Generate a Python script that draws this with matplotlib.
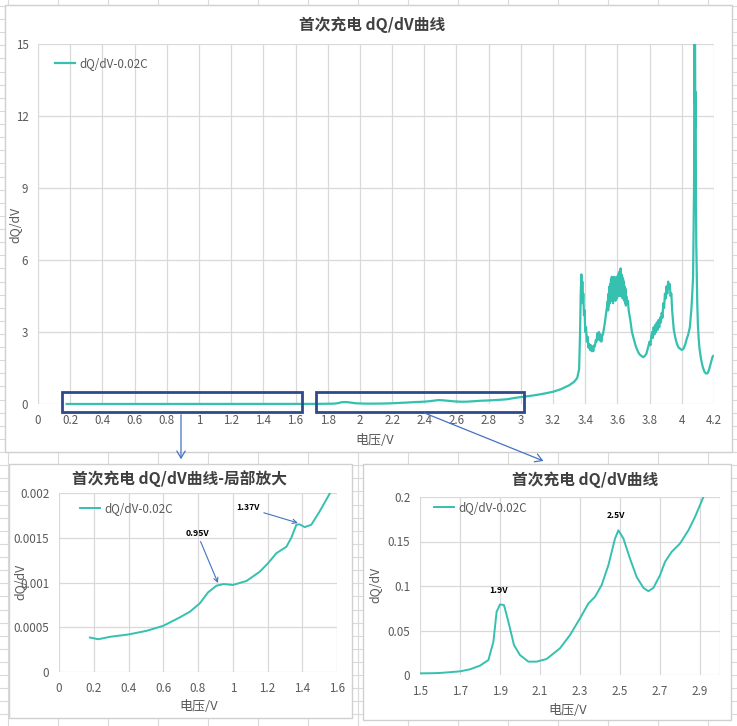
import matplotlib
matplotlib.use("Agg")
import matplotlib.pyplot as plt
from matplotlib.lines import Line2D
from matplotlib.patches import Rectangle, FancyArrowPatch

plt.rcParams['font.family'] = ['Noto Sans CJK SC', 'DejaVu Sans']

# ---------------- data ----------------
v_low = [0.178, 0.226, 0.293, 0.399, 0.504, 0.6, 0.695, 0.753, 0.81, 0.858, 0.906, 0.948,
         1.0, 1.079, 1.155, 1.203, 1.251, 1.309, 1.337, 1.366, 1.385, 1.414, 1.452, 1.5, 1.56, 1.6]
dq_low = [0.000385, 0.000366, 0.000393, 0.000419, 0.00046, 0.000516, 0.00061, 0.000673, 0.000766,
          0.00089, 0.000964, 0.000983, 0.000972, 0.001017, 0.00112, 0.001215, 0.001327, 0.0014,
          0.0015, 0.001645, 0.00165, 0.001619, 0.001645, 0.001794, 0.002, 0.0023]

v_mid = [1.65, 1.7, 1.75, 1.8, 1.842, 1.867, 1.883, 1.9, 1.92, 1.942, 1.97, 2.0, 2.042, 2.083,
         2.133, 2.2, 2.25, 2.3, 2.342, 2.375, 2.408, 2.442, 2.475, 2.492, 2.517, 2.55, 2.583,
         2.617, 2.642, 2.667, 2.7, 2.725, 2.758, 2.8, 2.842, 2.875, 2.917]
dq_mid = [0.0032, 0.0041, 0.0064, 0.0105, 0.0168, 0.0374, 0.071, 0.0793, 0.0785, 0.0598, 0.0336,
          0.0224, 0.015, 0.015, 0.018, 0.03, 0.0449, 0.0636, 0.0804, 0.0879, 0.1009, 0.1234,
          0.1533, 0.1626, 0.1533, 0.1308, 0.1103, 0.0979, 0.0942, 0.0979, 0.1121, 0.1271,
          0.1383, 0.1477, 0.1626, 0.1776, 0.2]

v_high = [2.95, 3.0, 3.05, 3.1, 3.15, 3.2, 3.25, 3.3, 3.33, 3.35, 3.362, 3.368, 3.372, 3.376,
          3.379, 3.382, 3.385, 3.388, 3.392, 3.396, 3.40, 3.405, 3.41, 3.415, 3.42, 3.425,
          3.43, 3.435, 3.44, 3.445, 3.45, 3.455,
          3.46, 3.465, 3.47, 3.475, 3.48, 3.485, 3.49, 3.495, 3.50, 3.505, 3.51, 3.52, 3.53,
          3.54, 3.5425, 3.545, 3.5475, 3.55, 3.5525, 3.555, 3.5575, 3.56, 3.5625, 3.565,
          3.5675, 3.57, 3.5725, 3.575, 3.5775, 3.58, 3.5825, 3.585, 3.5875, 3.59, 3.5925,
          3.595, 3.5975, 3.60, 3.6025, 3.605, 3.6075, 3.61, 3.6125, 3.615, 3.6175, 3.62,
          3.6225, 3.625, 3.6275, 3.63, 3.6325, 3.635, 3.6375, 3.64, 3.6425, 3.645, 3.6475,
          3.65, 3.6525, 3.655, 3.66, 3.665, 3.67, 3.68,
          3.69, 3.70, 3.71, 3.72, 3.73, 3.74, 3.75, 3.76, 3.77, 3.78, 3.79, 3.80, 3.805, 3.81,
          3.815, 3.82, 3.825, 3.83, 3.835, 3.84, 3.845, 3.85, 3.855, 3.86, 3.865, 3.87, 3.875,
          3.88, 3.885, 3.89, 3.895, 3.90, 3.905, 3.91, 3.915, 3.92, 3.925, 3.93, 3.935, 3.94,
          3.95, 3.96, 3.97, 3.98, 3.99, 4.00, 4.01, 4.02, 4.03, 4.04, 4.05, 4.06, 4.065, 4.07,
          4.073, 4.076, 4.078, 4.08, 4.082, 4.084, 4.086, 4.088, 4.09, 4.093, 4.096, 4.10,
          4.105, 4.11, 4.12, 4.13, 4.14, 4.15, 4.16, 4.17, 4.18, 4.19, 4.195]
dq_high = [0.24, 0.29, 0.33, 0.38, 0.44, 0.51, 0.62, 0.78, 0.92, 1.08, 1.45, 3.0, 4.6, 5.4,
           4.4, 5.1, 4.2, 4.6, 3.7, 3.9, 3.0, 3.2, 2.6, 2.8, 2.35, 2.5,
           2.25, 2.45, 2.2, 2.4, 2.2, 2.45,
           2.4, 2.65, 2.6, 2.95, 2.7, 3.0, 2.65, 2.9, 2.6, 2.85, 2.9, 3.3, 3.8,
           4.3, 3.9, 4.6, 4.1, 4.9, 4.2, 5.0, 4.3, 5.2, 4.4, 5.3,
           4.3, 5.2, 4.2, 5.1, 4.4, 5.3, 4.5, 5.2, 4.3, 5.1, 4.5,
           5.3, 4.4, 5.0, 4.6, 5.4, 4.5, 5.5, 4.6, 5.3, 4.5, 5.65,
           4.6, 5.4, 4.5, 5.3, 4.4, 5.2, 4.4, 5.1, 4.3, 4.9, 4.2,
           4.8, 4.1, 4.5, 4.2, 4.3, 3.9, 3.5,
           3.0, 2.75, 2.5, 2.3, 2.15, 2.05, 2.0, 1.95, 2.0, 2.1, 2.35, 2.6, 2.45, 2.8,
           3.0, 2.75, 3.2, 2.9, 3.3, 3.0, 3.4, 3.1, 3.5, 3.2, 3.6, 3.4, 3.8,
           3.6, 4.2, 4.0, 4.6, 4.4, 4.9, 4.6, 5.1, 4.8, 5.0, 4.5, 4.6, 3.9,
           3.1, 2.75, 2.5, 2.35, 2.3, 2.25, 2.3, 2.45, 2.7, 2.9, 3.2, 4.0, 4.6, 5.3,
           7.0, 9.0, 15.5, 12.5, 16.0, 11.5, 13.0, 8.5, 6.6, 5.5, 4.2, 3.3,
           2.7, 2.3, 1.85, 1.55, 1.35, 1.27, 1.28, 1.45, 1.7, 1.95, 2.0]

volt = v_low + v_mid + v_high
dqdv = dq_low + dq_mid + dq_high

main_xticks = [0, 0.2, 0.4, 0.6, 0.8, 1.0, 1.2, 1.4, 1.6, 1.8, 2.0, 2.2, 2.4, 2.6, 2.8, 3.0,
               3.2, 3.4, 3.6, 3.8, 4.0, 4.2]
main_xlabels = ['0', '0.2', '0.4', '0.6', '0.8', '1', '1.2', '1.4', '1.6', '1.8', '2', '2.2',
                '2.4', '2.6', '2.8', '3', '3.2', '3.4', '3.6', '3.8', '4', '4.2']
main_yticks = [0, 3, 6, 9, 12, 15]
main_ylabels = ['0', '3', '6', '9', '12', '15']

zoom1_xticks = [0, 0.2, 0.4, 0.6, 0.8, 1.0, 1.2, 1.4, 1.6]
zoom1_xlabels = ['0', '0.2', '0.4', '0.6', '0.8', '1', '1.2', '1.4', '1.6']
zoom1_yticks = [0, 0.0005, 0.001, 0.0015, 0.002]
zoom1_ylabels = ['0', '0.0005', '0.001', '0.0015', '0.002']

zoom2_xticks = [1.5, 1.7, 1.9, 2.1, 2.3, 2.5, 2.7, 2.9]
zoom2_xlabels = ['1.5', '1.7', '1.9', '2.1', '2.3', '2.5', '2.7', '2.9']
zoom2_yticks = [0, 0.05, 0.1, 0.15, 0.2]
zoom2_ylabels = ['0', '0.05', '0.1', '0.15', '0.2']

series_name = 'dQ/dV-0.02C'

# ---------------- style ----------------
W, H = 737, 726
LINE = '#35C0AF'
GRID = '#D9D9D9'
TICK = '#595959'
TITLE = '#404040'
NAVY = '#2E4A8C'
ARROW = '#4472C4'

fig = plt.figure(figsize=(W / 100, H / 100), dpi=100)
fig.patch.set_facecolor('white')


def fx(x):
    return x / W


def fy(y):
    return 1 - y / H


# spreadsheet cell grid
x = 8
while x < W:
    fig.add_artist(Line2D([fx(x), fx(x)], [0, 1], transform=fig.transFigure,
                          color='#DADADA', lw=0.8, zorder=0))
    x += 50
y = 6.0
while y < H:
    fig.add_artist(Line2D([0, 1], [fy(y), fy(y)], transform=fig.transFigure,
                          color='#DADADA', lw=0.8, zorder=0))
    y += 13.12


def frame(x0, y0, x1, y1):
    fig.add_artist(Rectangle((fx(x0), fy(y1)), fx(x1) - fx(x0), fy(y0) - fy(y1),
                             transform=fig.transFigure, facecolor='white',
                             edgecolor='#D0D0D0', lw=1.0, zorder=1))


def make_axes(x0, y0, x1, y1):
    ax = fig.add_axes([fx(x0), fy(y1), fx(x1) - fx(x0), fy(y0) - fy(y1)])
    ax.set_zorder(2)
    ax.patch.set_alpha(0)
    for s in ax.spines.values():
        s.set_visible(False)
    ax.grid(True, color=GRID, lw=0.9)
    ax.set_axisbelow(True)
    return ax


def draw_series(ax, lw):
    ln, = ax.plot(volt, dqdv, color=LINE, lw=lw, label=series_name)
    ln.set_clip_path(Rectangle((0, -0.03), 1, 1.03, transform=ax.transAxes))
    return ln


def style_ticks(ax, xt, xl, yt, yl, size, padx, pady):
    ax.set_xticks(xt)
    ax.set_xticklabels(xl)
    ax.set_yticks(yt)
    ax.set_yticklabels(yl)
    ax.tick_params(axis='x', length=0, pad=padx, labelsize=size, labelcolor=TICK)
    ax.tick_params(axis='y', length=0, pad=pady, labelsize=size, labelcolor=TICK)


def labels(ax, xpos, ypos):
    ax.set_xlabel('电压/V', fontsize=9.4, color=TICK)
    ax.xaxis.label.set_va('center')
    ax.xaxis.set_label_coords(fx(xpos[0]), fy(xpos[1]), transform=fig.transFigure)
    ax.set_ylabel('dQ/dV', fontsize=8.8, color=TICK)
    ax.yaxis.label.set_va('center')
    ax.yaxis.label.set_ha('center')
    ax.yaxis.set_label_coords(fx(ypos[0]), fy(ypos[1]), transform=fig.transFigure)


def legend(ax, x, y):
    ax.legend(loc='upper left', bbox_to_anchor=(fx(x), fy(y)), bbox_transform=fig.transFigure,
              frameon=False, fontsize=8.4, handlelength=1.75, handletextpad=0.35,
              borderpad=0, borderaxespad=0, labelcolor=TICK)


# ---------------- main chart ----------------
frame(5, 5, 732, 452)
ax = make_axes(38, 44, 714, 404)
draw_series(ax, 1.6)
ax.set_xlim(0, 4.2)
ax.set_ylim(0, 15)
style_ticks(ax, main_xticks, main_xlabels, main_yticks, main_ylabels, 8.3, 7, 7)
labels(ax, (375, 440), (15, 225))
fig.text(fx(372), fy(25), '首次充电 dQ/dV曲线', ha='center', va='center', fontsize=11.3,
         fontweight='bold', color=TITLE, zorder=3)
legend(ax, 55, 57)
ax.add_patch(Rectangle((0.147, -0.33), 1.494, 0.83, fill=False, edgecolor=NAVY, lw=2,
                       clip_on=False, zorder=4))
ax.add_patch(Rectangle((1.73, -0.33), 1.288, 0.83, fill=False, edgecolor=NAVY, lw=2,
                       clip_on=False, zorder=4))

# ---------------- zoom chart 1 ----------------
frame(9, 464, 352, 718)
ax1 = make_axes(59, 493, 337, 672)
draw_series(ax1, 1.4)
ax1.set_xlim(0, 1.6)
ax1.set_ylim(0, 0.002)
style_ticks(ax1, zoom1_xticks, zoom1_xlabels, zoom1_yticks, zoom1_ylabels, 8.4, 7, 7)
labels(ax1, (199, 707), (20, 582))
fig.text(fx(180), fy(479), '首次充电 dQ/dV曲线-局部放大', ha='center', va='center',
         fontsize=11.3, fontweight='bold', color=TITLE, zorder=3)
legend(ax1, 80, 502)
ax1.annotate('0.95V', xy=(0.915, 0.000994), xytext=(fx(197), fy(533)),
             textcoords='figure fraction', ha='center', va='center', fontsize=6.2,
             fontweight='bold', color='black',
             arrowprops=dict(arrowstyle='->,head_length=0.5,head_width=0.25', color=ARROW,
                             lw=0.8, shrinkA=1, shrinkB=0))
ax1.annotate('1.37V', xy=(1.375, 0.001665), xytext=(fx(248), fy(508)),
             textcoords='figure fraction', ha='center', va='center', fontsize=6.2,
             fontweight='bold', color='black',
             arrowprops=dict(arrowstyle='->,head_length=0.5,head_width=0.25', color=ARROW,
                             lw=0.8, shrinkA=1, shrinkB=0))

# ---------------- zoom chart 2 ----------------
frame(363, 464, 731, 720)
ax2 = make_axes(420, 497, 720, 675)
draw_series(ax2, 1.4)
ax2.set_xlim(1.5, 3.0)
ax2.set_ylim(0, 0.2)
ax2.axvline(3.0, color=GRID, lw=0.9, zorder=0)
style_ticks(ax2, zoom2_xticks, zoom2_xlabels, zoom2_yticks, zoom2_ylabels, 8.4, 7, 7)
labels(ax2, (568, 710), (375, 585))
fig.text(fx(585), fy(480), '首次充电 dQ/dV曲线', ha='center', va='center', fontsize=11.3,
         fontweight='bold', color=TITLE, zorder=3)
legend(ax2, 434, 501)
ax2.text(1.894, 0.0944, '1.9V', ha='center', va='center', fontsize=6.2, fontweight='bold',
         color='black')
ax2.text(2.48, 0.1787, '2.5V', ha='center', va='center', fontsize=6.2, fontweight='bold',
         color='black')

# ---------------- connector arrows ----------------
for (x0, y0, x1, y1) in [(181, 412, 181, 462), (422, 412, 546, 462)]:
    fig.add_artist(FancyArrowPatch((fx(x0), fy(y0)), (fx(x1), fy(y1)),
                                   transform=fig.transFigure,
                                   arrowstyle='->,head_length=5,head_width=3',
                                   color=ARROW, lw=0.9, zorder=10))

fig.savefig('out.png', dpi=100, facecolor='white')
